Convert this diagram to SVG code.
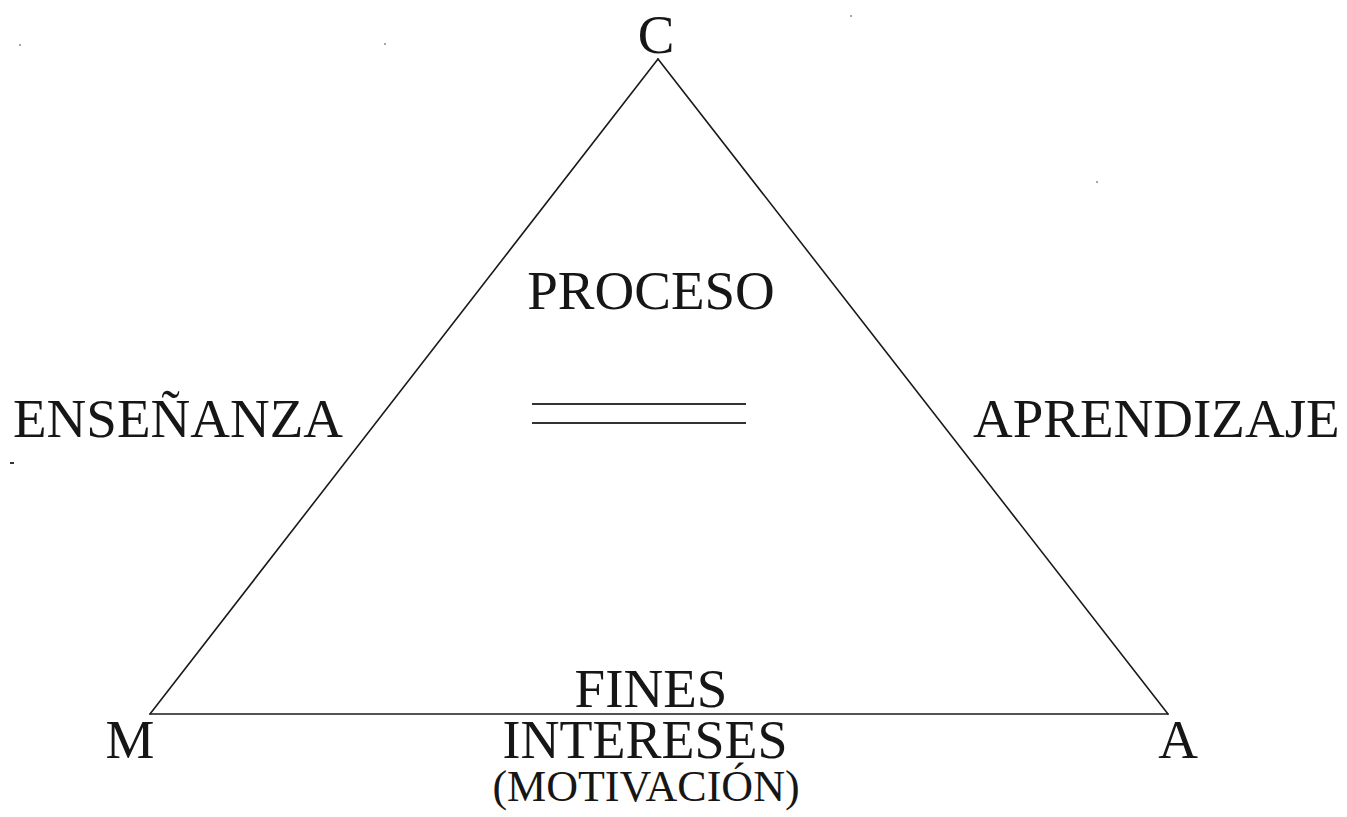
<svg xmlns="http://www.w3.org/2000/svg" width="1347" height="817" viewBox="0 0 1347 817">
<style>
.t{font-family:"Liberation Serif","Times New Roman",serif;fill:#161616;}
.big{font-size:55px;}
.mid{font-size:54px;}
.sm{font-size:44px;}
.edge{stroke:#1a1a1a;stroke-width:1.6;fill:none;stroke-linecap:round;}
.eq{stroke:#333;stroke-width:1.8;}
.speck{fill:#333;}
</style>
<rect width="1347" height="817" fill="#fff"/>
<g id="connectors">
<line class="edge" x1="150" y1="714" x2="658" y2="59"/>
<line class="edge" x1="658" y1="59" x2="1168" y2="714"/>
<line class="edge" x1="150" y1="714" x2="1168" y2="714"/>
</g>
<g id="node-C"><text class="t big" x="656" y="53" text-anchor="middle">C</text></g>
<g id="node-M"><text class="t big" x="130" y="758" text-anchor="middle">M</text></g>
<g id="node-A"><text class="t big" x="1178" y="758" text-anchor="middle">A</text></g>
<g id="label-proceso">
<text class="t big" x="651" y="309" text-anchor="middle">PROCESO</text>
<line class="eq" x1="532" y1="404" x2="746" y2="404"/>
<line class="eq" x1="532" y1="423" x2="746" y2="423"/>
</g>
<g id="label-ensenanza"><text class="t big" x="13" y="437">ENSEÑANZA</text></g>
<g id="label-aprendizaje"><text class="t big" x="973" y="437">APRENDIZAJE</text></g>
<g id="label-fines">
<text class="t big" x="651" y="707" text-anchor="middle">FINES</text>
<text class="t mid" x="645" y="758" text-anchor="middle">INTERESES</text>
<text class="t sm" x="646" y="801" text-anchor="middle">(MOTIVACIÓN)</text>
</g>
<g id="specks">
<circle class="speck" cx="20" cy="45" r="0.8"/>
<circle class="speck" cx="385" cy="44" r="0.8"/>
<circle class="speck" cx="851" cy="16" r="0.8"/>
<circle class="speck" cx="1097" cy="182" r="0.8"/>
<rect class="speck" x="10" y="462" width="4" height="2"/>
</g>
</svg>
